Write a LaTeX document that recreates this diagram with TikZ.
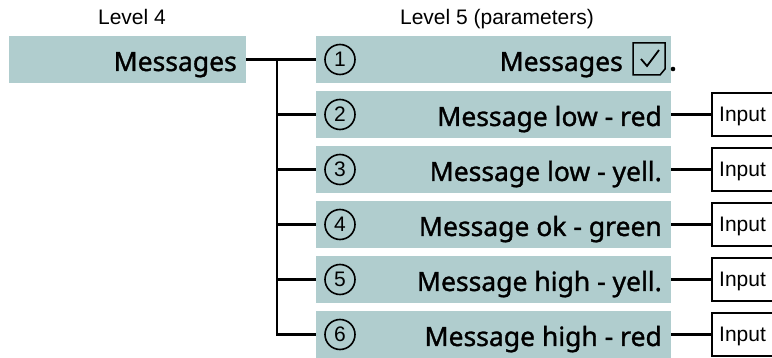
\documentclass[tikz,border=0pt]{standalone}
\usepackage{fontspec}
\setmainfont{Liberation Sans}
\newfontfamily\medfont[FakeBold=1.2]{Noto Sans}
\usepackage{tikz}
\usetikzlibrary{calc}
\definecolor{boxgreen}{RGB}{176,205,206}
\tikzstyle{lvlbox}=[rectangle, fill=boxgreen, inner sep=0pt, minimum height=47pt]
\tikzstyle{lbl}=[inner sep=0pt, font=\medfont\fontsize{26.5}{26.5}\selectfont]
\tikzstyle{head}=[inner sep=0pt, font=\fontsize{21}{21}\selectfont]
\tikzstyle{num}=[circle, draw=black, line width=1.6pt, minimum size=30pt, inner sep=0pt, font=\fontsize{21}{21}\selectfont]
\tikzstyle{inbox}=[rectangle, draw=black, line width=1.5pt, minimum height=43pt, minimum width=80pt, inner sep=0pt, anchor=west]
\tikzstyle{conn}=[line width=2.4pt]

\begin{document}
\begin{tikzpicture}[x=1pt, y=-1pt]
    \useasboundingbox (0,0) rectangle (772,358);
    \clip (0,0) rectangle (772,358);

    %headers
    \node [head, anchor=base] (h4) at (132,25) {Level 4};
    \node [head, anchor=base] (h5) at (497,25) {Level 5 (parameters)};

    %level 4
    \node [lvlbox, minimum width=237pt] (l4) at (127.5,59.5) {};
    \node [lbl, anchor=base east] (t0) at (237,71) {Messages};

    %level 5 rows
    \foreach \i in {1,...,6}{
        \node [lvlbox, minimum width=355pt] (p\i) at (493.5,{4.5+55*\i}) {};
        \node [num] (n\i) at (340,{4.5+55*\i}) {\i};
    }

    \node [lbl, anchor=base east] (t1) at (623,71) {Messages};
    \foreach \i/\txt in {2/Message low - red,3/Message low - yell.,4/Message ok - green,5/Message high - yell.,6/Message high - red} {
        \node [lbl, anchor=base east] (t\i) at (662,{16+55*\i}) {\txt};
        \node [inbox] (in\i) at (711,{4.5+55*\i}) {};
        \node [head, anchor=base west] (it\i) at (719,{12+55*\i}) {Input};
        \draw [conn] (p\i.east) -- (in\i.west);
    }

    %checkbox
    \coordinate (chk) at (633,43);
    \draw [line width=1.5pt] (chk) -- ++(32,0) -- ++(0,26) -- ++(-5,6) -- ++(-27,0) -- cycle;
    \draw [line width=1.8pt] ($(chk)+(8,16)$) -- ++(6,7) -- ++(12,-16);
    \fill (673,69) circle (2.3pt);

    %tree
    \coordinate (trunk) at (277,59.5);
    \draw [conn] (l4.east) -- (p1.west);
    \draw [conn] (trunk) |- (p6.west);
    \foreach \i in {2,...,5}{
        \draw [conn] (trunk |- p\i.west) -- (p\i.west);
    }

\end{tikzpicture}
\end{document}
